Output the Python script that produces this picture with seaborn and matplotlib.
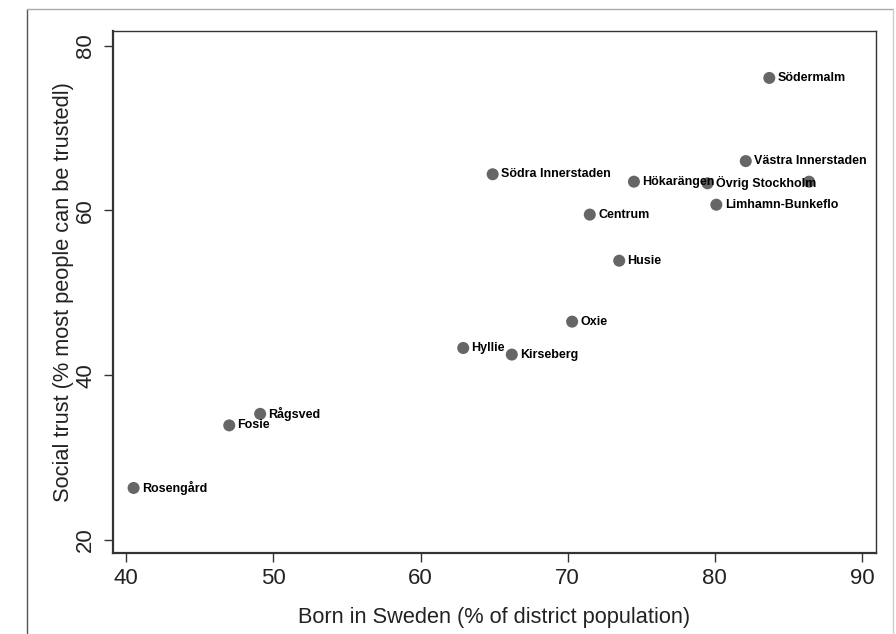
import matplotlib
matplotlib.use("Agg")
import matplotlib.pyplot as plt
import seaborn as sns
import pandas as pd
from matplotlib.lines import Line2D

districts = ["Södermalm", "Västra Innerstaden", "Södra Innerstaden", "Hökarängen",
             "Övrig Stockholm", "", "Limhamn-Bunkeflo", "Centrum", "Husie", "Oxie",
             "Hyllie", "Kirseberg", "Rågsved", "Fosie", "Rosengård"]
born_in_sweden = [83.7, 82.1, 64.9, 74.5, 79.5, 86.4, 80.1, 71.5, 73.5, 70.3,
                  62.9, 66.2, 49.1, 47.0, 40.5]
social_trust = [76.1, 66.0, 64.4, 63.5, 63.3, 63.5, 60.7, 59.5, 53.9, 46.5,
                43.3, 42.5, 35.3, 33.9, 26.3]
x_ticks = [40, 50, 60, 70, 80, 90]
y_ticks = [20, 40, 60, 80]

df = pd.DataFrame({"district": districts, "born": born_in_sweden, "trust": social_trust})

sns.set_theme(style="white")
plt.rcParams["font.family"] = ["Liberation Sans", "DejaVu Sans"]

fig = plt.figure(figsize=(8.96, 6.34), dpi=100)
fig.patch.set_facecolor("white")

# outer frame
fig.add_artist(Line2D([27/896, 27/896], [0, 1 - 9/634], transform=fig.transFigure,
                      color="#555555", lw=1.0))
fig.add_artist(Line2D([27/896, 893/896], [1 - 9/634, 1 - 9/634], transform=fig.transFigure,
                      color="#aaaaaa", lw=1.0))
fig.add_artist(Line2D([893/896, 893/896], [0, 1 - 9/634], transform=fig.transFigure,
                      color="#cccccc", lw=1.0))

ax = fig.add_axes([113/896, 1 - 553/634, (876 - 113)/896, (553 - 31)/634])
sns.scatterplot(data=df, x="born", y="trust", ax=ax, color="#666666", s=75,
                edgecolor="none", linewidth=0, zorder=3)

for _, r in df.iterrows():
    if r["district"]:
        ax.annotate(r["district"], (r["born"], r["trust"]), xytext=(6, 0),
                    textcoords="offset points", ha="left", va="center",
                    fontsize=9, fontweight="bold", color="black", zorder=4)

ax.set_xlim(39.1, 90.95)
ax.set_ylim(18.4, 81.8)
ax.set_xticks(x_ticks)
ax.set_yticks(y_ticks)
ax.set_xticklabels([str(t) for t in x_ticks], fontsize=16)
ax.set_yticklabels([str(t) for t in y_ticks], fontsize=16, rotation=90, va="center")
ax.tick_params(axis="both", direction="out", length=6.5, width=1, color="#333333",
               bottom=True, left=True, top=False, right=False, labelcolor="#222222")
ax.tick_params(axis="x", pad=4.5)
ax.tick_params(axis="y", pad=5.5)

ax.set_xlabel("Born in Sweden (% of district population)", fontsize=15.7, labelpad=13, color="#222222")
ax.set_ylabel("Social trust (% most people can be trustedl)", fontsize=15.7, labelpad=1, color="#222222")

for side, sp in ax.spines.items():
    sp.set_visible(True)
    sp.set_color("#333333")
    sp.set_linewidth(1.6 if side in ("left", "bottom") else 1.0)

fig.savefig("out.png", dpi=100, facecolor="white")
